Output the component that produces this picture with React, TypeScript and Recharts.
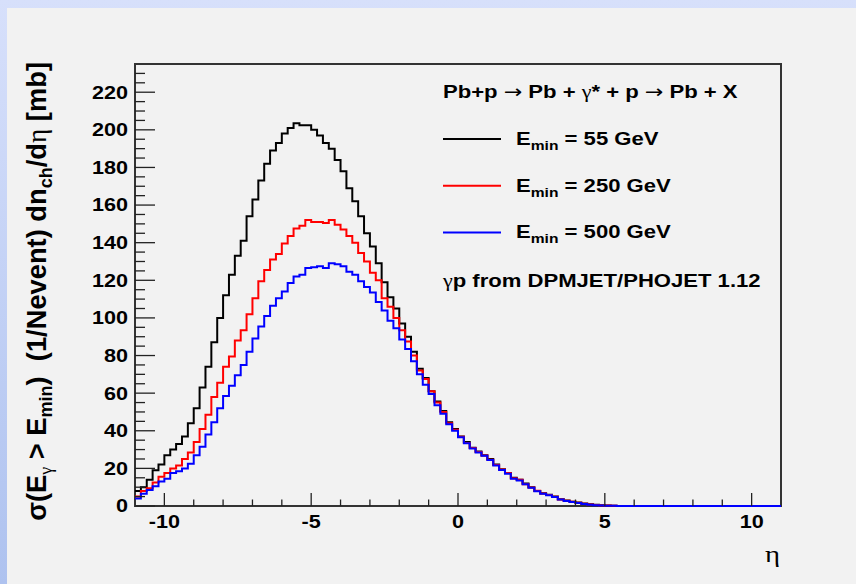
import React from "react";
import { LineChart, Line, XAxis, YAxis, ReferenceArea, Legend } from "recharts";

// histogram binning: 110 bins of 0.2 from -11 to 11
const etaMin = -11;
const etaMax = 11;
const binWidth = 0.2;

// dσ/dη per bin [mb]
const e55 = [
  8, 10, 14, 19, 22, 27, 30, 33, 37, 44,
  52, 63, 74, 87, 100, 112, 123, 133, 141, 154,
  163, 173, 182, 189, 193, 198, 201, 203.5, 202.5, 202.5,
  200, 197, 193, 190, 184, 178, 169, 162, 154, 145,
  138, 129, 119, 111, 105, 97, 90, 82, 73, 68,
  61, 55.5, 50.5, 44.5, 41, 37, 34, 31, 29, 27,
  25, 22, 19.5, 17.5, 15, 14, 12, 10, 8, 6.8,
  6, 5, 3.6, 2.9, 2.3, 1.8, 1.3, 0.9, 0.6, 0.4,
  0.2, 0.1, 0, 0, 0, 0, 0, 0, 0, 0,
  0, 0, 0, 0, 0, 0, 0, 0, 0, 0,
  0, 0, 0, 0, 0, 0, 0, 0, 0, 0,
];
const e250 = [
  5, 8, 9.5, 12.5, 15.5, 17.5, 20, 21.5, 25, 28.5,
  34, 41, 48.5, 58, 65.5, 74, 79.5, 88, 93.5, 102,
  110.5, 119.5, 125.5, 131, 134, 139.5, 143.5, 147.5, 149, 152,
  151, 151, 150.5, 152, 149.5, 147, 143.5, 140, 134.5, 130,
  124, 120, 110.5, 106, 100, 93.5, 87.5, 80, 72, 67.5,
  61, 55, 50, 44, 40.5, 36.8, 33.5, 30.8, 28.7, 26.9,
  24.6, 21.8, 19.4, 17.5, 14.7, 13.9, 11.6, 9.8, 8.1, 6.6,
  5.8, 4.9, 3.5, 2.8, 2.2, 1.7, 1.2, 0.8, 0.5, 0.3,
  0.2, 0.1, 0, 0, 0, 0, 0, 0, 0, 0,
  0, 0, 0, 0, 0, 0, 0, 0, 0, 0,
  0, 0, 0, 0, 0, 0, 0, 0, 0, 0,
];
const e500 = [
  4, 6.5, 8.5, 10.5, 13, 14.5, 17.5, 18.5, 20, 22.5,
  27, 31.5, 38, 44.5, 52, 58.5, 64, 69.5, 75, 82,
  89, 95.5, 101, 106.5, 110.5, 114, 118.5, 122, 123, 126.5,
  127, 127.5, 126.5, 129, 128.5, 127.5, 124.5, 123, 119.5, 116.5,
  113.5, 108.5, 104, 98.5, 94.5, 88.5, 83.5, 77, 70, 64.5,
  59.5, 53.5, 49, 43.5, 40, 36.5, 33.3, 30.6, 28.5, 26.7,
  24.4, 21.5, 19.2, 17.2, 14.5, 13.6, 11.5, 9.7, 7.9, 6.5,
  5.7, 4.8, 3.4, 2.7, 2.1, 1.6, 1.1, 0.7, 0.4, 0.3,
  0.1, 0.1, 0, 0, 0, 0, 0, 0, 0, 0,
  0, 0, 0, 0, 0, 0, 0, 0, 0, 0,
  0, 0, 0, 0, 0, 0, 0, 0, 0, 0,
];

// every tick position; labels only on the major ones
const xTicks = [-10, -9, -8, -7, -6, -5, -4, -3, -2, -1, 0, 1, 2, 3, 4, 5, 6, 7, 8, 9, 10];
const xLabelled = [-10, -5, 0, 5, 10];
const yTicks = [
  0, 5, 10, 15, 20, 25, 30, 35, 40, 45, 50, 55, 60, 65, 70, 75, 80, 85, 90, 95, 100, 105, 110, 115,
  120, 125, 130, 135, 140, 145, 150, 155, 160, 165, 170, 175, 180, 185, 190, 195, 200, 205, 210, 215,
  220, 225, 230,
];
const yLabelled = [0, 20, 40, 60, 80, 100, 120, 140, 160, 180, 200, 220];
const yMax = 235;

const series = [
  { key: "e55", label: "55 GeV", color: "#000000" },
  { key: "e250", label: "250 GeV", color: "#ff0000" },
  { key: "e500", label: "500 GeV", color: "#0000ff" },
];

// step-after histogram: one row per bin low edge, plus closing row at etaMax
const data = e55.map((_, i) => ({
  eta: etaMin + i * binWidth,
  e55: e55[i],
  e250: e250[i],
  e500: e500[i],
}));
data.push({ eta: etaMax, e55: e55[e55.length - 1], e250: e250[e250.length - 1], e500: e500[e500.length - 1] });

const SANS = "'Liberation Sans', Arial, Helvetica, sans-serif";
const SERIF = "'Liberation Serif', 'Times New Roman', serif";
const ARROW = "'DejaVu Sans', sans-serif";
const SX = 1.2; // the original screenshot is stretched horizontally
const X_MARGIN = 9;
const Y_MARGIN = 7;

// ROOT-style ticks: marks point into the frame, text outside
function YTick(props: any) {
  const { x, y, payload } = props;
  const major = yLabelled.includes(payload.value);
  const x0 = x + Y_MARGIN;
  return (
    <g>
      <line x1={x0} x2={x0 + (major ? 20 : 10)} y1={y} y2={y} stroke="#222" strokeWidth={1.3} />
      {major && (
        <text transform={`translate(${x},${y}) scale(${SX},1)`} textAnchor="end" dy="0.355em"
          fontSize={18} fontWeight="bold" fontFamily={SANS} fill="#000">
          {payload.value}
        </text>
      )}
    </g>
  );
}

function XTick(props: any) {
  const { x, y, payload } = props;
  const major = xLabelled.includes(payload.value);
  const y0 = y - X_MARGIN;
  return (
    <g>
      <line x1={x} x2={x} y1={y0} y2={y0 - (major ? 13 : 6.5)} stroke="#222" strokeWidth={1.3} />
      {major && (
        <text transform={`translate(${x},${y}) scale(${SX},1)`} textAnchor="middle" dy="0.71em"
          fontSize={18} fontWeight="bold" fontFamily={SANS} fill="#000">
          {payload.value}
        </text>
      )}
    </g>
  );
}

function LegendBox(props: any) {
  const payload = props.payload || [];
  const items = series.map((s) => payload.find((p: any) => p.dataKey === s.key)).filter(Boolean);
  const rowGap = 46.7;
  return (
    <svg width={345} height={230} style={{ overflow: "visible", display: "block" }}>
      <text transform={`translate(3,28.3) scale(${SX},1)`} fontSize={18.4} fontWeight="bold" fontFamily={SANS} fill="#000">
        Pb+p <tspan fontFamily={ARROW} fontWeight="normal">→</tspan> Pb +{" "}
        <tspan fontFamily={SERIF} fontWeight="normal">γ</tspan>* + p{" "}
        <tspan fontFamily={ARROW} fontWeight="normal">→</tspan> Pb + X
      </text>
      {items.map((it: any, i: number) => (
        <g key={it.dataKey}>
          <line x1={3} x2={61} y1={69 + rowGap * i} y2={69 + rowGap * i} stroke={it.color} strokeWidth={2} />
          <text transform={`translate(76,${75 + rowGap * i}) scale(${SX},1)`} fontSize={18.4} fontWeight="bold"
            fontFamily={SANS} fill="#000">
            E<tspan fontSize={13} dy={5}>min</tspan>
            <tspan dy={-5}> = {it.value}</tspan>
          </text>
        </g>
      ))}
      <text transform={`translate(3,216.7) scale(${SX},1)`} fontSize={18.4} fontWeight="bold" fontFamily={SANS} fill="#000">
        <tspan fontFamily={SERIF} fontWeight="normal">γ</tspan>p from DPMJET/PHOJET 1.12
      </text>
    </svg>
  );
}

export default function App() {
  return (
    <div style={{ position: "absolute", left: 0, top: 0, width: 856, height: 584,
      background: "linear-gradient(#d7e0fb, #aec2ef)", overflow: "hidden" }}>
      <div style={{ position: "absolute", left: 7, top: 8, right: 0, bottom: 0, background: "#f2f2f2" }} />
      <div style={{ position: "absolute", left: 0, top: 0 }}>
        <LineChart width={856} height={584} data={data} margin={{ top: 64, right: 75, bottom: 48, left: 75 }}>
          <XAxis xAxisId="x" type="number" dataKey="eta" domain={[etaMin, etaMax]}
            ticks={xTicks} interval={0} tickSize={0} tickMargin={X_MARGIN} axisLine={false} tickLine={false}
            tick={<XTick />} height={30} />
          <YAxis yAxisId="y" type="number" domain={[0, yMax]} ticks={yTicks} interval={0}
            tickSize={0} tickMargin={Y_MARGIN} axisLine={false} tickLine={false} tick={<YTick />} width={60} />

          {/* plot frame */}
          <ReferenceArea xAxisId="x" yAxisId="y" x1={etaMin} x2={etaMax} y1={0} y2={yMax}
            fill="none" stroke="#333" strokeWidth={2} fillOpacity={0} />

          {series.map((s) => (
            <Line key={s.key} xAxisId="x" yAxisId="y" type="stepAfter" dataKey={s.key} name={s.label}
              stroke={s.color} strokeWidth={2} dot={false} activeDot={false} isAnimationActive={false} />
          ))}

          <Legend layout="vertical" align="center" verticalAlign="middle"
            wrapperStyle={{ left: 440, top: 70, width: 345, height: 230 }} content={<LegendBox />} />
        </LineChart>
      </div>
      {/* axis titles */}
      <svg width={856} height={584} style={{ position: "absolute", left: 0, top: 0, pointerEvents: "none" }}>
        <text transform={`translate(46,62) rotate(-90)`} textAnchor="end" fontSize={27.3}
          fontWeight="bold" fontFamily={SANS} fill="#000" style={{ whiteSpace: "pre" }}>
          σ(E<tspan fontSize={18} dy={6} fontFamily={SERIF} fontWeight="normal">γ</tspan>
          <tspan dy={-6}> {">"} E</tspan>
          <tspan fontSize={18} dy={6}>min</tspan>
          <tspan dy={-6}>)  (1/Nevent) dn</tspan>
          <tspan fontSize={18} dy={6}>ch</tspan>
          <tspan dy={-6}>/d</tspan>
          <tspan fontFamily={SERIF} fontWeight="normal">η</tspan> [mb]
        </text>
        <text transform={`translate(780,562) scale(${SX},1)`} textAnchor="end" fontSize={24}
          fontFamily={SERIF} fill="#000">
          η
        </text>
      </svg>
    </div>
  );
}
